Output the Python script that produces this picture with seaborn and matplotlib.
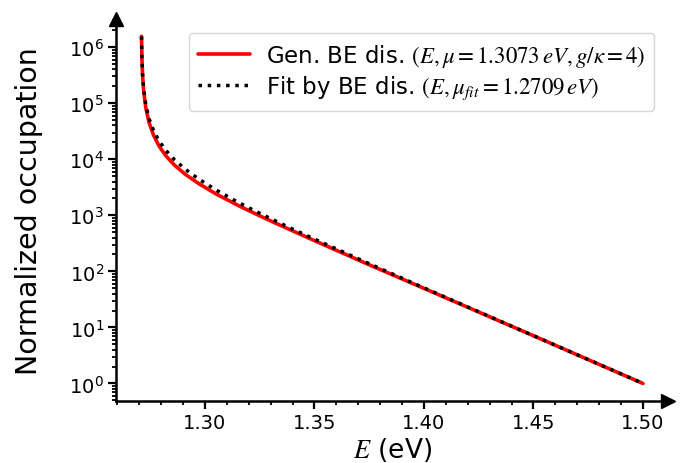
import numpy as np
import pandas as pd
import matplotlib
matplotlib.use("Agg")
import matplotlib.pyplot as plt
import seaborn as sns
from matplotlib.ticker import MultipleLocator

# Energies (eV)
energy = [1.27103, 1.2712, 1.2715, 1.272, 1.273, 1.2745, 1.2765, 1.279, 1.282,
          1.286, 1.291, 1.297, 1.305, 1.315, 1.32, 1.33, 1.34, 1.35, 1.375,
          1.40, 1.425, 1.45, 1.475, 1.50]
# Generalized BE distribution (red)
gen_be = [1.56e6, 6.6e5, 3.18e5, 1.66e5, 8.2e4, 4.47e4, 2.7e4, 1.73e4, 1.17e4,
          7900, 5390, 3710, 2410, 1510, 1211, 793, 529, 353, 131,
          49.7, 18.8, 7.1, 2.66, 1.0]
# Fit by BE distribution (black dotted)
fit_be = [1.56e6, 6.74e5, 3.35e5, 1.81e5, 9.29e4, 5.26e4, 3.25e4, 2.13e4, 1.46e4,
          9870, 6650, 4470, 2840, 1720, 1361, 872, 568, 376, 137,
          50.8, 19.0, 7.11, 2.67, 1.0]

label_gen = r"Gen. BE dis. $(E,\mu=1.3073\,eV,g/\kappa=4)$"
label_fit = r"Fit by BE dis. $(E,\mu_{fit}=1.2709\,eV)$"

df = pd.DataFrame({"E": energy, "gen": gen_be, "fit": fit_be})

sns.set_style("ticks")
plt.rcParams["font.family"] = ["DejaVu Sans"]
plt.rcParams["mathtext.fontset"] = "stix"
for k in ["text.color", "axes.labelcolor", "xtick.color", "ytick.color"]:
    plt.rcParams[k] = "black"

fig = plt.figure(figsize=(6.81, 4.64), dpi=100)
ax = fig.add_axes([0.171, 0.134, 0.81, 0.823])

sns.lineplot(data=df, x="E", y="gen", ax=ax, color="#ff0000", lw=2.6,
             label=label_gen, sort=False)
sns.lineplot(data=df, x="E", y="fit", ax=ax, color="black", lw=2.5,
             linestyle=":", label=label_fit, sort=False)
ax.set_yscale("log")

for s in ["top", "right"]:
    ax.spines[s].set_visible(False)
for s in ["left", "bottom"]:
    ax.spines[s].set_linewidth(1.8)
    ax.spines[s].set_color("black")

ax.xaxis.set_major_locator(MultipleLocator(0.05))
ax.xaxis.set_minor_locator(MultipleLocator(0.01))
ax.tick_params(which="major", direction="out", length=5.5, width=1.6,
               labelsize=14, color="black")
ax.tick_params(which="minor", direction="out", length=3, width=1.3,
               color="black")

ax.plot(1, 0, ">", color="black", markersize=10,
        transform=ax.transAxes, clip_on=False)
ax.plot(0, 1, "^", color="black", markersize=10,
        transform=ax.transAxes, clip_on=False)

ax.set_xlabel(r"$E$ (eV)", fontsize=19, labelpad=2)
ax.set_ylabel("Normalized occupation", fontsize=20.5, labelpad=19)

leg = ax.legend(loc="upper right", fontsize=16.5, handlelength=2.25,
                borderaxespad=0.6, labelspacing=0.22, handletextpad=0.7)

fig.savefig("out.png", dpi=100)
